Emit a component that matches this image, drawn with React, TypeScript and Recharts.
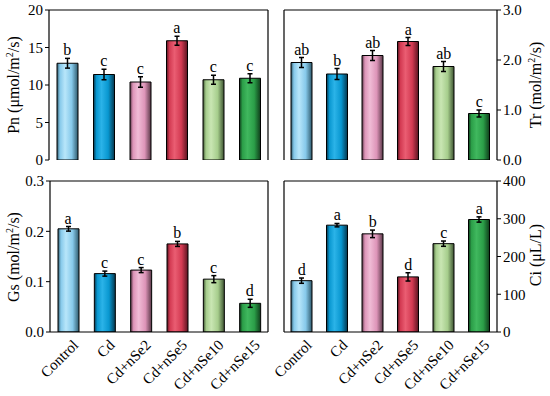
import React from "react";
import {
  ComposedChart,
  Bar,
  Line,
  XAxis,
  YAxis,
  Cell,
  ErrorBar,
  LabelList,
} from "recharts";

const categories = ["Control", "Cd", "Cd+nSe2", "Cd+nSe5", "Cd+nSe10", "Cd+nSe15"];

const pnValues = [12.9, 11.4, 10.4, 15.9, 10.7, 10.9];
const pnErrors = [0.65, 0.7, 0.7, 0.6, 0.6, 0.6];
const pnLetters = ["b", "c", "c", "a", "c", "c"];
const pnTicks = [0, 5, 10, 15, 20];

const trValues = [1.95, 1.72, 2.09, 2.37, 1.87, 0.93];
const trErrors = [0.1, 0.11, 0.1, 0.08, 0.1, 0.07];
const trLetters = ["ab", "b", "ab", "a", "ab", "c"];
const trTicks = [0, 1, 2, 3];

const gsValues = [0.205, 0.116, 0.123, 0.175, 0.105, 0.057];
const gsErrors = [0.0046, 0.005, 0.005, 0.005, 0.007, 0.008];
const gsLetters = ["a", "c", "c", "b", "c", "d"];
const gsTicks = [0, 0.1, 0.2, 0.3];

const ciValues = [136, 283, 260, 146, 234, 298];
const ciErrors = [7, 4.5, 10, 11, 7, 7];
const ciLetters = ["d", "a", "b", "d", "c", "a"];
const ciTicks = [0, 100, 200, 300, 400];

const barColors = [
  { dark: "#2f5a6c", base: "#86c9ea", light: "#b8e6fa" },
  { dark: "#06374d", base: "#0897d0", light: "#2bb3e8" },
  { dark: "#5a3848", base: "#dd94b8", light: "#f0bcd6" },
  { dark: "#5a1420", base: "#d33a52", light: "#ea5d72" },
  { dark: "#3e5432", base: "#a6cd8c", light: "#c9e6b3" },
  { dark: "#0f3d1b", base: "#2b9e48", light: "#40b85e" },
];

const FONT = "'Liberation Serif', 'Times New Roman', serif";

function RotTick(props: any) {
  const { x, y, payload } = props;
  return (
    <g transform={`translate(${x + 11},${y + 6})`}>
      <text
        x={0}
        y={0}
        textAnchor="end"
        transform="rotate(-45)"
        fontSize={15}
        fontFamily={FONT}
        fill="#000"
      >
        {payload.value}
      </text>
    </g>
  );
}

function Panel(props: any) {
  const {
    id,
    left,
    top,
    width,
    height,
    margin,
    side,
    domain,
    ticks,
    fmt,
    showX,
    xHeight,
    yWidth,
    values,
    errors,
    letters,
  } = props;
  const rows = categories.map((c, i) => ({
    name: c,
    v: values[i],
    e: errors[i],
    top: values[i] + errors[i],
    letter: letters[i],
  }));
  const other = side === "left" ? "right" : "left";
  const axisLine = { stroke: "#000", strokeWidth: 1.2 };
  return (
    <div style={{ position: "absolute", left, top, width, height }}>
      <ComposedChart width={width} height={height} data={rows} margin={margin}>
        <defs>
          {barColors.map((c, i) => (
            <linearGradient key={i} id={`${id}g${i}`} x1="0" y1="0" x2="1" y2="0">
              <stop offset="0%" stopColor={c.dark} />
              <stop offset="14%" stopColor={c.base} />
              <stop offset="38%" stopColor={c.light} />
              <stop offset="70%" stopColor={c.base} />
              <stop offset="100%" stopColor={c.dark} />
            </linearGradient>
          ))}
        </defs>
        <XAxis
          xAxisId="b"
          dataKey="name"
          interval={0}
          tick={showX ? <RotTick /> : false}
          tickLine={false}
          axisLine={axisLine}
          height={xHeight}
        />
        <XAxis
          xAxisId="t"
          dataKey="name"
          orientation="top"
          tick={false}
          tickLine={false}
          axisLine={axisLine}
          height={1}
        />
        <YAxis
          yAxisId="m"
          orientation={side}
          domain={domain}
          ticks={ticks}
          interval={0}
          tickFormatter={fmt}
          allowDataOverflow
          tickSize={4}
          tickLine={{ stroke: "#000", strokeWidth: 1 }}
          axisLine={axisLine}
          width={yWidth}
          tick={{ fill: "#000", fontSize: 15, fontFamily: FONT }}
        />
        <YAxis
          yAxisId="o"
          orientation={other}
          domain={domain}
          allowDataOverflow
          tick={false}
          tickLine={false}
          axisLine={axisLine}
          width={1}
        />
        <Bar
          xAxisId="b"
          yAxisId="m"
          dataKey="v"
          barSize={21}
          stroke="#000"
          strokeWidth={1}
          isAnimationActive={false}
        >
          {rows.map((r, i) => (
            <Cell key={i} fill={`url(#${id}g${i})`} />
          ))}
          <ErrorBar dataKey="e" width={2.5} stroke="#000" strokeWidth={1.5} />
        </Bar>
        <Line
          xAxisId="t"
          yAxisId="o"
          dataKey="top"
          stroke="none"
          dot={false}
          activeDot={false}
          isAnimationActive={false}
        >
          <LabelList
            dataKey="letter"
            position="top"
            offset={3}
            style={{ fill: "#000", fontSize: 16, fontFamily: FONT }}
          />
        </Line>
      </ComposedChart>
    </div>
  );
}

function Title(props: any) {
  const { x, y, pre, post } = props;
  return (
    <text
      transform={`translate(${x},${y}) rotate(-90)`}
      textAnchor="middle"
      fontSize={16}
      fontFamily={FONT}
      fill="#000"
    >
      {pre}
      {post !== undefined ? (
        <>
          <tspan dy={-6} fontSize={10}>
            2
          </tspan>
          <tspan dy={6}>{post}</tspan>
        </>
      ) : null}
    </text>
  );
}

export default function App() {
  return (
    <div
      style={{
        position: "absolute",
        left: 0,
        top: 0,
        width: 550,
        height: 396,
        background: "#fff",
        overflow: "hidden",
      }}
    >
      <style>{`.recharts-surface{overflow:visible}`}</style>
      <Panel
        id="pn"
        left={0}
        top={0}
        width={275}
        height={175}
        margin={{ top: 9, right: 6, bottom: 15, left: 14 }}
        side="left"
        yWidth={35}
        domain={[0, 20]}
        ticks={pnTicks}
        fmt={(v: number) => String(v)}
        showX={false}
        xHeight={0}
        values={pnValues}
        errors={pnErrors}
        letters={pnLetters}
      />
      <Panel
        id="tr"
        left={275}
        top={0}
        width={275}
        height={175}
        margin={{ top: 9, right: 13, bottom: 15, left: 8 }}
        side="right"
        yWidth={40}
        domain={[0, 3]}
        ticks={trTicks}
        fmt={(v: number) => v.toFixed(1)}
        showX={false}
        xHeight={0}
        values={trValues}
        errors={trErrors}
        letters={trLetters}
      />
      <Panel
        id="gs"
        left={0}
        top={170}
        width={275}
        height={226}
        margin={{ top: 10, right: 6, bottom: 0, left: 14 }}
        side="left"
        yWidth={36}
        domain={[0, 0.3]}
        ticks={gsTicks}
        fmt={(v: number) => v.toFixed(1)}
        showX={true}
        xHeight={64}
        values={gsValues}
        errors={gsErrors}
        letters={gsLetters}
      />
      <Panel
        id="ci"
        left={275}
        top={170}
        width={275}
        height={226}
        margin={{ top: 10, right: 13, bottom: 0, left: 8 }}
        side="right"
        yWidth={40}
        domain={[0, 400]}
        ticks={ciTicks}
        fmt={(v: number) => String(v)}
        showX={true}
        xHeight={64}
        values={ciValues}
        errors={ciErrors}
        letters={ciLetters}
      />
      <svg
        width={550}
        height={396}
        style={{ position: "absolute", left: 0, top: 0, pointerEvents: "none" }}
      >
        <Title x={19} y={85} pre="Pn (μmol/m" post="/s)" />
        <Title x={541} y={85} pre="Tr (mol/m" post="/s)" />
        <Title x={19} y={257} pre="Gs (mol/m" post="/s)" />
        <Title x={541} y={255} pre="Ci (μL/L)" />
      </svg>
    </div>
  );
}
